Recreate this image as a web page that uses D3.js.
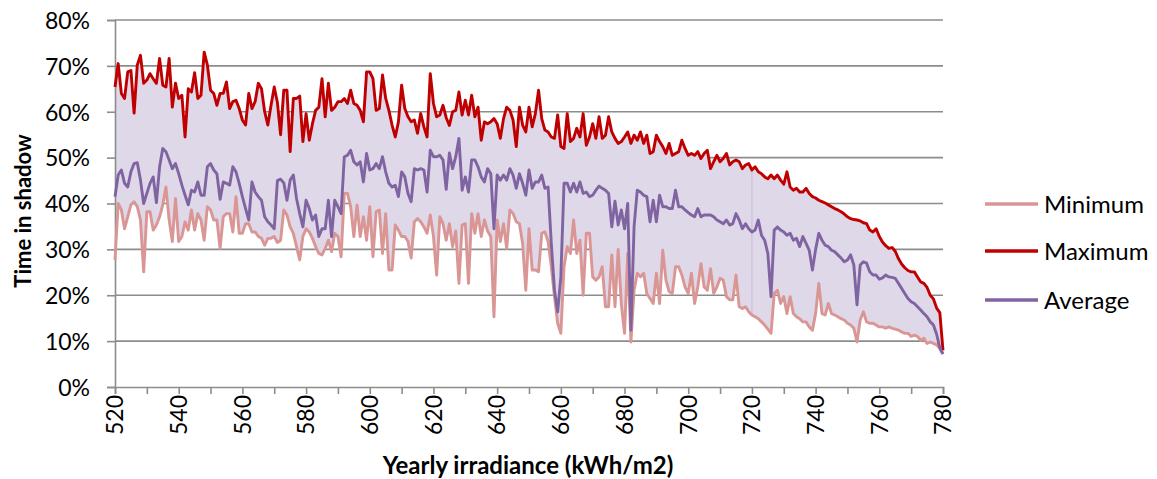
<!DOCTYPE html>
<html>
<head>
<meta charset="utf-8">
<script src="https://cdn.jsdelivr.net/npm/d3@7"></script>
<style>
  html, body { margin: 0; padding: 0; background: #fff; }
  svg { display: block; }
  text { font-family: Lato, "Open Sans", "Liberation Sans", sans-serif; fill: #000; }
</style>
</head>
<body>
<svg id="chart" width="1157" height="479"></svg>
<script>
// Yearly irradiance (kWh/m2), one point per unit
const irradiance = [
520,521,522,523,524,525,526,527,528,529,530,531,532,533,534,535,536,537,538,539,
540,541,542,543,544,545,546,547,548,549,550,551,552,553,554,555,556,557,558,559,
560,561,562,563,564,565,566,567,568,569,570,571,572,573,574,575,576,577,578,579,
580,581,582,583,584,585,586,587,588,589,590,591,592,593,594,595,596,597,598,599,
600,601,602,603,604,605,606,607,608,609,610,611,612,613,614,615,616,617,618,619,
620,621,622,623,624,625,626,627,628,629,630,631,632,633,634,635,636,637,638,639,
640,641,642,643,644,645,646,647,648,649,650,651,652,653,654,655,656,657,658,659,
660,661,662,663,664,665,666,667,668,669,670,671,672,673,674,675,676,677,678,679,
680,681,682,683,684,685,686,687,688,689,690,691,692,693,694,695,696,697,698,699,
700,701,702,703,704,705,706,707,708,709,710,711,712,713,714,715,716,717,718,719,
720,721,722,723,724,725,726,727,728,729,730,731,732,733,734,735,736,737,738,739,
740,741,742,743,744,745,746,747,748,749,750,751,752,753,754,755,756,757,758,759,
760,761,762,763,764,765,766,767,768,769,770,771,772,773,774,775,776,777,778,779,
780];

// Time in shadow (%)
const minimum = [
27.7,40,38.6,34.5,37.1,39.7,40.4,39.3,36.4,25.1,38.2,38.2,34.2,35.3,37.1,39.7,43.6,36.4,31.7,41.1,
31.7,32.8,36,34.2,38.6,34.2,37.8,36.4,32,39.3,38.6,36.4,36.4,30.2,37.1,37.8,37.8,33.8,41.5,33.5,
33.5,35.6,35.6,33.8,33.8,32.8,32.4,30.9,32.4,32.4,32.8,31.5,32,38.6,37.5,34.9,33.5,30.6,27.7,32.8,
34.5,33.8,32.4,30.6,29.1,28.8,30.2,32,29.5,33.5,32.8,28.4,42.2,42.2,39.3,32.8,39.7,32.8,37.1,32,
39.3,28.4,38.2,38.6,29.1,37.8,25.5,25.5,35.3,34.2,32.8,32.8,31.7,28.1,36,36.7,36,34.9,33.5,37.5,
32.8,24.4,37.1,35.6,32,35.6,30.6,34,22.6,35.3,35.6,22.6,37.8,33.5,37.8,32.8,36.4,34,32.8,15.3,
36.4,31.7,35.6,30.2,38.6,37.8,36,35.6,31.3,21.1,34.5,25.5,25.5,25.1,33.5,33.8,31.7,26.2,19.7,13.9,
11.7,26.2,30.6,29.1,36.4,29.1,32,20,33.5,33.5,24,23.3,24,26.2,17.5,17.5,28.8,17.5,30,18,
11.7,29.1,9.8,21.1,24.8,24,24.8,20.4,19.3,18.2,24.8,18.2,29.8,23.3,20.8,20.4,26.2,26.2,24.4,21.8,
20.4,24.8,18.2,21.8,26.9,21.8,21.1,25.8,20.4,21.8,23.7,23.3,19.7,19,19,24.4,17.5,17.1,17.5,16.4,
15.7,15.3,14.9,14.2,13.5,12.6,11.7,20.4,21.1,18.2,19.7,16,19.7,16,15.3,14.9,14.2,14.2,13.1,12.4,
16,22.6,16,15.7,18.2,16,15.7,15.3,14.9,14.6,13.9,13.5,12.8,9.8,14.6,16.4,14.2,13.9,13.9,13.5,
13.1,13.1,12.8,13.1,12.8,12.6,12.4,12,11.7,11.7,11,11.3,11,10.2,10.6,9.5,9.8,9.5,9.2,8.4,
7.2];

const maximum = [
65.4,70.5,64,62.9,68.7,69,59.7,70.2,72.3,66.2,66.9,68.3,67.2,66.2,71.6,65.8,65.4,71.6,61,66.2,
62.9,63.6,54.5,65,64.3,68.5,62.9,63.6,73,70.2,64.7,64,61.4,64,64,66.5,60.7,62.2,62.5,60.7,
58.2,57.1,64,60.7,62.2,66.2,65,60,57.1,61.4,65.4,62,55,64.7,64.7,51.3,62.9,62.9,63.4,53.5,
59.6,53.8,57.4,60.3,61,67.2,58.9,66.2,60.3,61,62.2,62.2,62.9,61.8,64.7,61.8,61.4,60.3,57.8,68.7,
68.7,67.2,60.3,60.7,68,62.9,60.3,57.1,54.5,57.8,65.8,60.7,58.9,57.8,58.2,55.3,59.6,56.7,54.5,68.3,
61.8,58.9,59.3,61.4,58.7,57,60,60.3,64.3,59.3,62.5,59.3,63.6,58.9,61,53.8,57.8,57.4,57.8,58.5,
57.4,54.2,58.5,61,60.3,58.2,52.4,61,57.1,55.6,61,56.7,59.6,64.7,58.5,56,55.6,54.5,54.2,59.3,
52.4,52,59.6,53.5,54.2,56.4,54.5,59.6,52.7,54.5,57.4,54.2,58.9,54.2,54.9,58.9,55.6,54.2,53.1,53.5,
54.5,55.6,53.1,54.9,53.8,55.6,53.1,54.9,50.9,51.3,54.9,53.5,52.4,50.9,53.1,50.5,50.9,51.3,53.8,52,
50.5,50.9,50.5,51.3,49.8,50.9,51.6,47.6,49.1,50.5,49.1,49.8,50.9,48.4,49.1,49.5,49.1,47.6,48.4,48.7,
47.3,48,46.9,46.5,45.8,45.4,46.2,45.4,46.2,45.1,44.2,46.9,43.6,42.9,43.3,42.5,42.5,43.3,42.2,41.5,
41.2,40.7,40.4,40.1,39.7,39.3,38.9,38.6,38.2,37.7,37.1,36.7,36.5,36.4,36.2,35.8,35.6,34.2,33.8,34.5,
32.8,31.6,30.8,30.2,30.4,29.6,28,26.8,26,25.4,25.1,25.1,24,22.9,22.6,21.7,20,19.2,17.2,16.2,
8];

const average = [
41.5,46.2,47.3,44.4,43.6,46.9,48.7,48.9,45.1,40,42.2,44.4,45.8,40.2,48,52,51.3,49.5,47.6,48.7,
46.5,44,41.8,39.7,42.9,42.5,44.7,41.8,41.8,48,48.7,47.3,46.5,40.9,44.7,44.4,44,48,46.9,44.4,
41.5,38.9,36.4,44.7,42.5,41.5,40.7,37.1,36,35.3,34.5,45,45.3,44.5,40.7,45.1,46.2,41.1,37.8,34.9,
40.7,38.9,36.4,37.5,32.8,34.5,34.5,40.7,32.8,40.7,39.3,37.8,50.2,50.5,51.6,49.1,48.4,49.1,44.7,50.9,
47.3,47.6,48.7,47.6,50.2,46.9,44.4,43.6,44,41.5,46.9,45.8,42.2,40.4,47.6,47.3,47.6,47.3,42.5,51.6,
50.2,50.2,50.5,49.5,43.1,51,47.6,50.2,54.2,42.9,45.8,42.5,49.5,49.5,48,45.8,44.7,47.6,46.5,34.5,
46.2,45.1,46.2,45.1,47.6,46.2,43.3,46.5,44.4,41.8,47.3,43.3,44.7,44.7,46.2,43.3,43.6,31.3,21.1,16.4,
24,44.4,44.4,42.5,44.4,42.5,44.7,42.2,42.5,41.5,41.8,42.9,43.8,43.3,42.9,42.2,34.9,40.5,35.3,38.6,
34.5,40,12.4,35,42.9,42.5,41.8,41.5,36,40.7,36,41.8,39.3,39.3,38.9,38.9,42.9,39.3,39.3,38.6,
38,37.5,37.1,38.9,37.1,37.5,37.5,37.5,37.1,36.4,36,35.6,36.4,35.3,35.6,37.8,36.4,34.5,35.6,34.5,
33.8,34.2,36.4,33.1,32,29.1,19.7,34.2,34.9,34.2,33.8,33.1,33.5,32,32.4,30.6,32.8,31.3,29.8,25.5,
30,33.5,32,30.9,30.6,29.8,29.5,28.8,28.1,27.3,27.7,28.8,26.6,17.9,26.6,27.3,27,25.1,24.4,24.4,
23.5,23.8,24.4,24,23.9,23.7,22.6,21.5,20.4,19.3,18.6,18.2,17.5,16.8,16,15.3,14.2,13.5,11.5,8.5,
7.2];

const seriesNames = ["Minimum", "Maximum", "Average"];
const seriesColors = ["#d99694", "#c00000", "#8064a2"];
const xTicks = [520,540,560,580,600,620,640,660,680,700,720,740,760,780];
const xMinorTicks = [520,530,540,550,560,570,580,590,600,610,620,630,640,650,660,670,680,690,700,710,720,730,740,750,760,770,780];
const yTicks = [0,10,20,30,40,50,60,70,80];

(function () {
const svg = d3.select("#chart");
const pLeft = 115, pRight = 943, pTop = 20, pBottom = 387;

const x = d3.scaleLinear().domain([520, 780]).range([pLeft, pRight]);
const y = d3.scaleLinear().domain([0, 80]).range([pBottom, pTop]);

const gridColor = "#8c8c8c";

// gridlines
svg.append("g").selectAll("line").data(yTicks.filter(d => d > 0)).join("line")
  .attr("x1", pLeft).attr("x2", pRight)
  .attr("y1", d => y(d)).attr("y2", d => y(d))
  .attr("stroke", gridColor).attr("stroke-width", 1.6);

const data = irradiance.map((v, i) => ({ x: v, min: minimum[i], max: maximum[i], avg: average[i] }));

// filled band between minimum and maximum
svg.append("path").datum(data)
  .attr("d", d3.area().x(d => x(d.x)).y0(d => y(d.min)).y1(d => y(d.max)))
  .attr("fill", "#dfd8e9");

// faint seam inside the band at 720
const seam = data.find(d => d.x === 720);
svg.append("line")
  .attr("x1", x(720)).attr("x2", x(720))
  .attr("y1", y(seam.max)).attr("y2", y(seam.min))
  .attr("stroke", "#c9bcdb").attr("stroke-width", 1);

// axes
const yAxis = d3.axisLeft(y).tickValues(yTicks).tickSize(8).tickFormat(d => d + "%");
const gy = svg.append("g").attr("transform", `translate(${pLeft},0)`).call(yAxis);
gy.select(".domain").attr("stroke", gridColor).attr("stroke-width", 1.6);
gy.selectAll(".tick line").attr("stroke", gridColor).attr("stroke-width", 1.6);
gy.selectAll(".tick text").attr("x", -25).attr("dy", "0.36em")
  .style("font-size", "23px").style("font-family", "Lato, sans-serif").attr("fill", "#000");

const xAxis = d3.axisBottom(x).tickValues(xMinorTicks).tickSize(7).tickFormat("");
const gx = svg.append("g").attr("transform", `translate(0,${pBottom})`).call(xAxis);
gx.select(".domain").attr("stroke", gridColor).attr("stroke-width", 1.6);
gx.selectAll(".tick line").attr("stroke", gridColor).attr("stroke-width", 1.6);

svg.append("g").selectAll("text").data(xTicks).join("text")
  .attr("transform", d => `translate(${x(d)},${pBottom + 8}) rotate(-90)`)
  .attr("text-anchor", "end").attr("dy", "0.36em")
  .style("font-size", "23px")
  .text(d => d);

// lines
const seriesData = [minimum, maximum, average];
seriesData.forEach((vals, k) => {
  svg.append("path").datum(irradiance.map((v, i) => [v, vals[i]]))
    .attr("d", d3.line().x(d => x(d[0])).y(d => y(d[1])))
    .attr("fill", "none")
    .attr("stroke", seriesColors[k])
    .attr("stroke-width", 2.9)
    .attr("stroke-linejoin", "round");
});

// axis titles
svg.append("text")
  .attr("transform", `translate(31,211) rotate(-90)`)
  .attr("text-anchor", "middle")
  .style("font-size", "22px").style("font-weight", "bold")
  .text("Time in shadow");

svg.append("text")
  .attr("x", 528).attr("y", 474)
  .attr("text-anchor", "middle")
  .style("font-size", "24px").style("font-weight", "bold")
  .text("Yearly irradiance (kWh/m2)");

// legend
const legendY = [204, 251, 300];
const lg = svg.append("g");
seriesNames.forEach((name, k) => {
  lg.append("line")
    .attr("x1", 985).attr("x2", 1038)
    .attr("y1", legendY[k]).attr("y2", legendY[k])
    .attr("stroke", seriesColors[k]).attr("stroke-width", 3.5);
  lg.append("text")
    .attr("x", 1044).attr("y", legendY[k]).attr("dy", "0.36em")
    .style("font-size", "24px")
    .text(name);
});
})();
</script>
</body>
</html>
